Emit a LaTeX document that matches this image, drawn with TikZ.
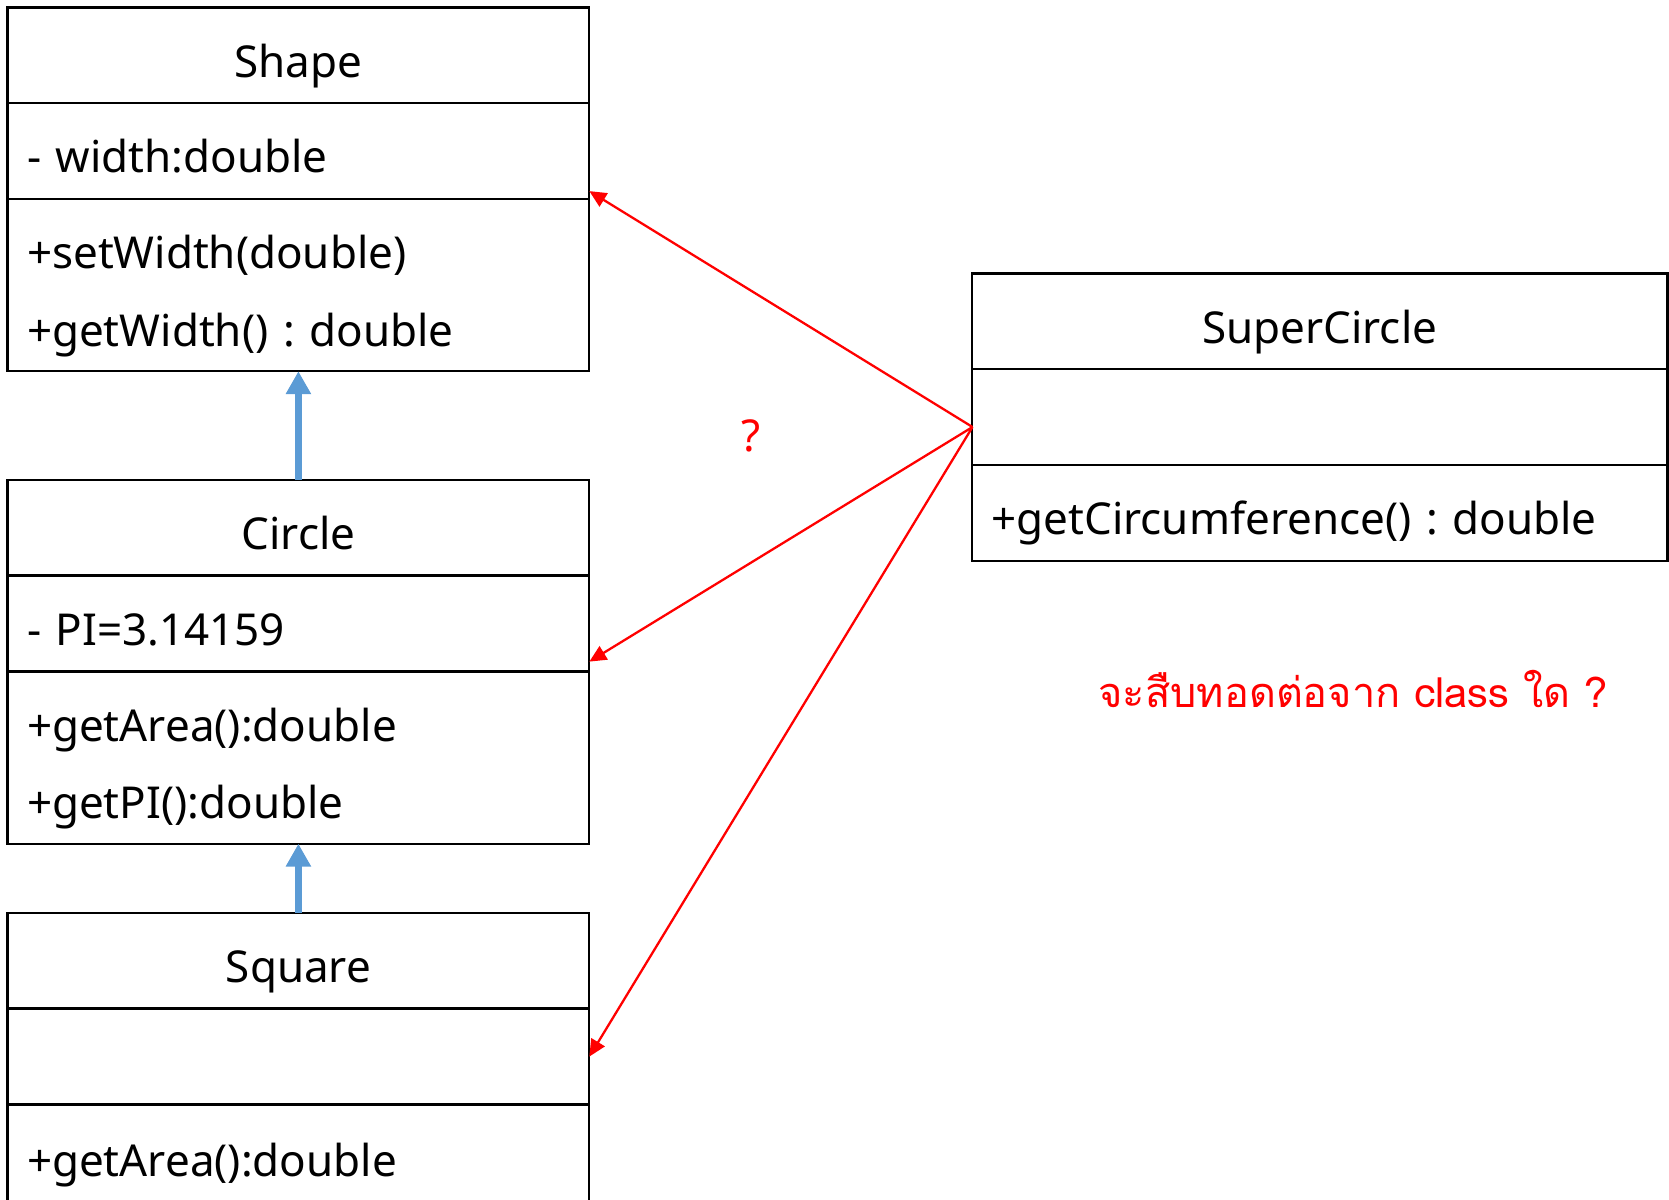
\documentclass[tikz,border=0pt]{standalone}
\usepackage{fontspec}
\setmainfont{Noto Sans}
\newfontfamily\thaifont[Script=Thai]{Loma}
\usepackage{tikz}
\usetikzlibrary{arrows.meta,calc,positioning}
\definecolor{linkblue}{RGB}{91,155,213}
\frenchspacing

\begin{document}
\begin{tikzpicture}[x=0.01cm,y=-0.01cm]

  %Styles for picture
  \tikzset
  {
  compartment/.style={draw, line width=0.65pt, inner sep=0pt, outer sep=0pt, minimum width=5.815cm, font=\fontsize{12.5}{22}\selectfont, text height=14pt, text depth=1.6pt},
  headbox/.style={compartment, minimum height=0.955cm},
  attrbox/.style={compartment, minimum height=0.96cm, align=left, text width=5.425cm, inner xsep=0.195cm},
  opsbox/.style={compartment, minimum height=1.72cm, align=left, text width=5.425cm, inner xsep=0.195cm, text height=12pt, text depth=21.2pt},
  inherit/.style={-{Triangle[length=6.5pt,width=6.8pt]}, line width=2pt, linkblue},
  guess/.style={-{Triangle[length=4.8pt,width=4.4pt]}, line width=0.65pt, red},
  }

  \clip (0,0) rectangle (1669,1199);

  % Nodes
  \node[headbox, anchor=north west] (shapehead) at (7.5,7.5) {Shape};
  \node[attrbox, below=0pt of shapehead] (shapeattr) {- width:double};
  \node[opsbox, below=0pt of shapeattr] (shapeops) {+setWidth(double)\\+getWidth() : double};

  \node[headbox, anchor=north west] (circlehead) at (7.5,480) {Circle};
  \node[attrbox, below=0pt of circlehead] (circleattr) {- PI=3.14159};
  \node[opsbox, below=0pt of circleattr] (circleops) {+getArea():double\\+getPI():double};

  \node[headbox, anchor=north west] (squarehead) at (7.5,913) {Square};
  \node[attrbox, below=0pt of squarehead] (squareattr) {};
  \node[attrbox, minimum height=1.0cm, below=0pt of squareattr] (squareops) {+getArea():double};

  \node[headbox, minimum width=6.95cm, anchor=north west] (superhead) at (972,273.5) {SuperCircle};
  \node[attrbox, text width=6.56cm, below=0pt of superhead] (superattr) {};
  \node[attrbox, text width=6.56cm, below=0pt of superattr] (superops) {+getCircumference() : double};

  \node[red, font=\fontsize{12.5}{14}\selectfont] (ask) at (751,436) {?};
  \node[red, font=\fontsize{11.8}{14}\thaifont] (question) at (1353,689) {จะสืบทอดต่อจาก class ใด ?};

  \coordinate (fork) at (972.5,427);

  % Edges
  \draw[inherit] (circlehead.north) -- (shapeops.south);
  \draw[inherit] (squarehead.north) -- (circleops.south);
  \draw[guess] (fork) -- ($(shapeattr.south east)+(0,-8)$);
  \draw[guess] (fork) -- ($(circleattr.south east)+(0,-10)$);
  \draw[guess] (fork) -- (squareattr.east);
\end{tikzpicture}
\end{document}
